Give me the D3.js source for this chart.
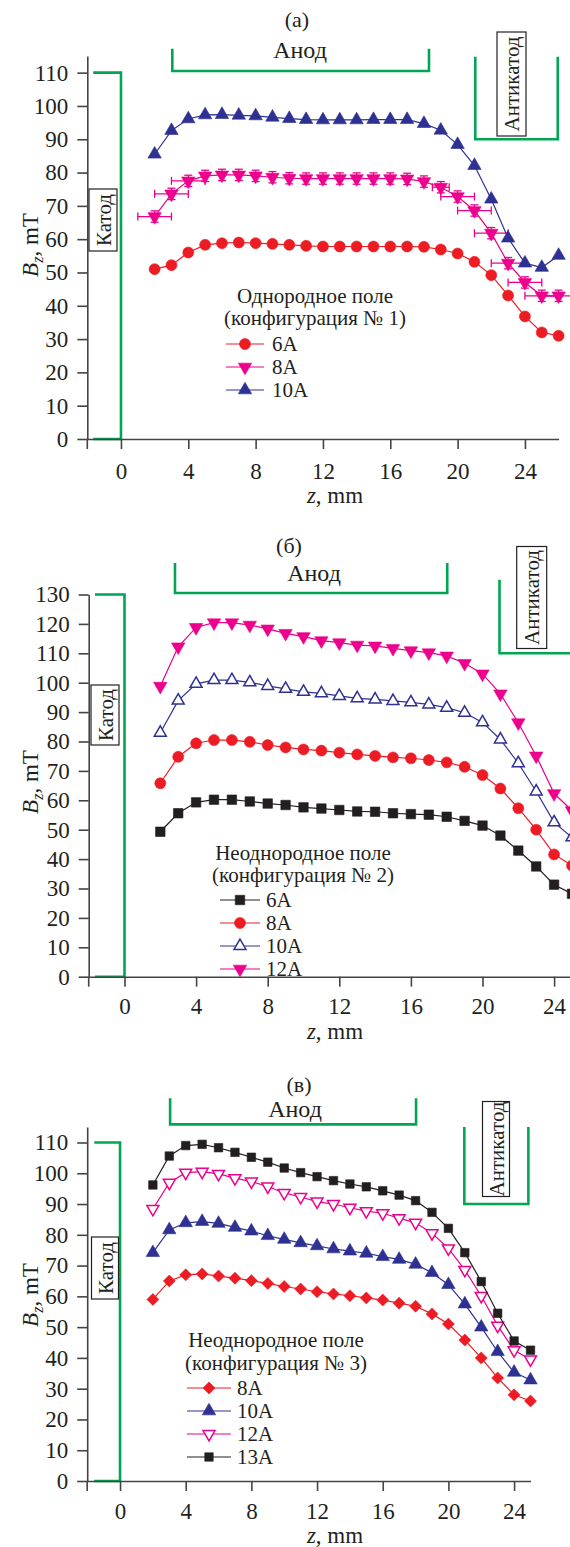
<!DOCTYPE html>
<html>
<head>
<meta charset="utf-8">
<script src="https://cdn.jsdelivr.net/npm/d3@7"></script>
<style>
  body { margin: 0; background: #fff; }
  svg { display: block; overflow: hidden; }
  text { font-family: "Liberation Serif", "Times New Roman", serif; fill: #231f20; }
</style>
</head>
<body>
<svg id="chart" width="570" height="1547"></svg>
<script>
// ---- data ----
var xTicks = [0, 4, 8, 12, 16, 20, 24];
var yTicksA = [0, 10, 20, 30, 40, 50, 60, 70, 80, 90, 100, 110];
var yTicksB = [0, 10, 20, 30, 40, 50, 60, 70, 80, 90, 100, 110, 120, 130];
var yTicksC = [0, 10, 20, 30, 40, 50, 60, 70, 80, 90, 100, 110];

// (a) uniform field, z = 2..26 mm
var zA = [2, 3, 4, 5, 6, 7, 8, 9, 10, 11, 12, 13, 14, 15, 16, 17, 18, 19, 20, 21, 22, 23, 24, 25, 26];
var a6 = [51.0, 52.2, 56.0, 58.3, 58.8, 59.0, 58.8, 58.6, 58.3, 58.0, 57.8, 57.8, 57.8, 57.8, 57.8, 57.8, 57.7, 56.9, 55.7, 53.2, 49.2, 43.1, 36.8, 32.0, 31.0];
var a8 = [66.8, 73.6, 77.5, 79.0, 79.3, 79.3, 79.0, 78.6, 78.3, 78.2, 78.2, 78.2, 78.2, 78.2, 78.2, 78.1, 77.3, 75.6, 72.8, 68.6, 61.8, 52.8, 47.0, 43.0, 43.0];
var a10 = [85.5, 92.6, 96.1, 97.3, 97.4, 97.2, 97.0, 96.6, 96.2, 95.9, 95.8, 95.8, 95.8, 95.9, 95.9, 95.9, 94.7, 92.7, 88.4, 82.1, 72.0, 60.3, 52.8, 51.5, 55.1];
var a8errY = [1.7, 1.7, 1.7, 1.7, 1.7, 1.7, 1.7, 1.7, 1.7, 1.7, 1.7, 1.7, 1.7, 1.7, 1.7, 1.7, 1.7, 1.7, 1.7, 1.7, 1.7, 1.7, 1.7, 1.7, 1.7];
var a8errX = [1, 1, 1, 0, 0, 0, 0, 0, 0, 0, 0, 0, 0, 0, 0, 0, 0, 0.5, 1, 1, 1, 1, 1, 1, 1];

// (б) non-uniform field, config 2, z = 2..25 mm
var zB = [2, 3, 4, 5, 6, 7, 8, 9, 10, 11, 12, 13, 14, 15, 16, 17, 18, 19, 20, 21, 22, 23, 24, 25];
var b6 = [49.3, 55.6, 59.3, 60.2, 60.2, 59.6, 58.9, 58.4, 57.6, 57.2, 56.7, 56.2, 56.1, 55.6, 55.3, 55.1, 54.4, 53.0, 51.4, 48.0, 42.9, 37.5, 31.3, 28.2];
var b8 = [65.8, 74.8, 79.4, 80.5, 80.5, 79.9, 78.8, 78.0, 77.3, 76.9, 76.2, 75.6, 75.1, 74.6, 74.3, 73.7, 72.9, 71.4, 68.6, 64.0, 57.3, 50.0, 41.6, 37.8];
var b10 = [83.0, 93.9, 99.6, 100.9, 100.9, 100.1, 98.9, 97.9, 96.9, 96.4, 95.5, 94.7, 94.3, 93.8, 93.3, 92.6, 91.5, 89.8, 86.5, 80.7, 72.6, 63.0, 52.5, 47.4];
var b12 = [98.8, 112.2, 118.8, 120.4, 120.4, 119.6, 118.3, 116.8, 115.7, 114.3, 113.6, 112.8, 112.5, 111.7, 110.9, 110.2, 109.1, 106.6, 103.0, 96.2, 86.4, 75.1, 62.3, 56.5];

// (в) non-uniform field, config 3, z = 2..25 mm
var zC = [2, 3, 4, 5, 6, 7, 8, 9, 10, 11, 12, 13, 14, 15, 16, 17, 18, 19, 20, 21, 22, 23, 24, 25];
var c8 = [59.0, 65.0, 67.0, 67.3, 66.6, 65.9, 65.1, 64.2, 63.2, 62.4, 61.5, 60.8, 60.2, 59.5, 58.8, 57.8, 56.8, 54.3, 51.0, 45.8, 40.0, 33.5, 28.0, 26.0];
var c10 = [74.2, 81.6, 83.9, 84.3, 83.7, 82.4, 81.2, 79.7, 78.5, 77.4, 76.4, 75.4, 74.7, 74.0, 72.9, 72.0, 70.4, 67.7, 63.8, 57.5, 50.0, 42.0, 35.3, 32.8];
var c12 = [88.4, 96.9, 100.2, 100.5, 99.8, 98.4, 97.3, 95.7, 93.6, 92.3, 90.8, 90.0, 88.8, 87.7, 87.0, 85.4, 83.9, 80.5, 75.6, 68.6, 60.1, 50.5, 42.5, 39.5];
var c13 = [96.2, 105.6, 109.0, 109.4, 108.3, 106.8, 105.2, 103.6, 101.7, 100.2, 98.9, 97.6, 96.5, 95.6, 94.3, 92.9, 91.1, 87.3, 82.1, 74.2, 64.8, 54.5, 45.5, 42.5];

var green = "#00a651", red = "#ed1c24", pink = "#ec008c", navy = "#2e3192", black = "#231f20";

var panels = [
  {
    xDomain: [-2, 26], xRange: [87.3, 558.6],
    yDomain: [0, 115], yRange: [439, 56], yTicks: yTicksA,
    xLabelY: 40, xTitleY: 503, yTitle: [38, 245],
    letter: "(а)", letterPos: [297, 27],
    anode: {z0: 3.05, z1: 18.3, v: 110.5, top: 117.2}, anodeLabel: [300, 58],
    cathode: {z0: -1.65, top: 110}, cathodeBox: [103, 220, 28, 62],
    anti: {z0: 21.05, z1: 25.95, v: 90, top: 114.8}, antiBox: [511.5, 84, 29, 104],
    series: [
      {name: "6A", z: zA, v: a6, color: red, shape: "circle"},
      {name: "8A", z: zA, v: a8, color: pink, shape: "down", errX: a8errX, errY: a8errY},
      {name: "10A", z: zA, v: a10, color: navy, shape: "up"}
    ],
    legend: {title: ["Однородное поле", "(конфигурация № 1)"], cx: 315, titleY: [303, 325],
             itemY: 344, step: 23, lx: [226, 264], tx: 272}
  },
  {
    xDomain: [-2, 26], xRange: [88.7, 589.9],
    yDomain: [0, 130], yRange: [976.7, 594.5], yTicks: yTicksB,
    xLabelY: 37, xTitleY: 1039, yTitle: [38, 782],
    letter: "(б)", letterPos: [289, 553],
    anode: {z0: 2.82, z1: 18.03, v: 130.5, top: 140.7}, anodeLabel: [314, 581],
    cathode: {z0: -1.65, top: 130}, cathodeBox: [105, 715, 28, 60],
    anti: {z0: 20.95, z1: 27, v: 110, top: 135}, antiBox: [531.7, 597.5, 30, 102],
    series: [
      {name: "6A", z: zB, v: b6, color: black, shape: "square"},
      {name: "8A", z: zB, v: b8, color: red, shape: "circle"},
      {name: "10A", z: zB, v: b10, color: navy, shape: "up", open: true},
      {name: "12A", z: zB, v: b12, color: pink, shape: "down"}
    ],
    legend: {title: ["Неоднородное поле", "(конфигурация № 2)"], cx: 303, titleY: [860, 882],
             itemY: 900, step: 23, lx: [220, 260], tx: 266}
  },
  {
    xDomain: [-2, 25], xRange: [87.2, 530.5],
    yDomain: [0, 115], yRange: [1481, 1127.1], yTicks: yTicksC,
    xLabelY: 38, xTitleY: 1543, yTitle: [38, 1295],
    letter: "(в)", letterPos: [299, 1092],
    anode: {z0: 3.05, z1: 18.03, v: 115.9, top: 124.4}, anodeLabel: [295, 1117],
    cathode: {z0: -1.57, top: 110}, cathodeBox: [105, 1268, 27, 62],
    anti: {z0: 20.97, z1: 24.87, v: 90, top: 115}, antiBox: [496, 1149, 27, 95],
    series: [
      {name: "8A", z: zC, v: c8, color: red, shape: "diamond"},
      {name: "10A", z: zC, v: c10, color: navy, shape: "up"},
      {name: "12A", z: zC, v: c12, color: pink, shape: "down", open: true},
      {name: "13A", z: zC, v: c13, color: black, shape: "square", small: true}
    ],
    legend: {title: ["Неоднородное поле", "(конфигурация № 3)"], cx: 276, titleY: [1347, 1370],
             itemY: 1388, step: 23, lx: [187, 231], tx: 237}
  }
];

var svg = d3.select("#chart");

function marker(sel, s) {
  var type, size, rot = 0;
  if (s.shape == "circle") { type = d3.symbolCircle; size = 95; }
  else if (s.shape == "square") { type = d3.symbolSquare; size = s.small ? 72 : 90; }
  else if (s.shape == "diamond") { type = d3.symbolSquare; size = 72; rot = 45; }
  else { type = d3.symbolTriangle; size = s.open ? 62 : 78; rot = s.shape == "down" ? 180 : 0; }
  sel.attr("d", d3.symbol().type(type).size(size))
    .attr("fill", s.open ? "#fff" : s.color)
    .attr("stroke", s.color)
    .attr("stroke-width", s.open ? 1.5 : 0.6)
    .attr("data-rot", rot);
}

function drawPanel(p) {
  var g = svg.append("g");
  var x = d3.scaleLinear().domain(p.xDomain).range(p.xRange);
  var y = d3.scaleLinear().domain(p.yDomain).range(p.yRange);

  // electrodes
  var el = g.append("g").attr("fill", "none").attr("stroke", green).attr("stroke-width", 2.6);
  el.append("path").attr("d", "M" + x(p.anode.z0) + "," + y(p.anode.top) + "V" + y(p.anode.v) +
    "H" + x(p.anode.z1) + "V" + y(p.anode.top));
  el.append("path").attr("d", "M" + x(p.cathode.z0) + "," + y(p.cathode.top) + "H" + x(0) +
    "V" + y(0) + "H" + x(p.cathode.z0));
  el.append("path").attr("d", "M" + x(p.anti.z0) + "," + y(p.anti.top) + "V" + y(p.anti.v) +
    "H" + x(p.anti.z1) + "V" + y(p.anti.top));

  g.append("text").attr("x", p.anodeLabel[0]).attr("y", p.anodeLabel[1])
    .attr("text-anchor", "middle").attr("font-size", "24px").text("Анод");
  g.append("text").attr("x", p.letterPos[0]).attr("y", p.letterPos[1])
    .attr("text-anchor", "middle").attr("font-size", "22px").text(p.letter);

  // labelled boxes
  [[p.cathodeBox, "Катод"], [p.antiBox, "Антикатод"]].forEach(function(b) {
    var bx = b[0];
    g.append("rect").attr("x", bx[0] - bx[2] / 2).attr("y", bx[1] - bx[3] / 2)
      .attr("width", bx[2]).attr("height", bx[3])
      .attr("fill", "#fff").attr("stroke", black).attr("stroke-width", 1.2);
    g.append("text").attr("transform", "translate(" + (bx[0] + 7.5) + "," + bx[1] + ") rotate(-90)")
      .attr("text-anchor", "middle").attr("font-size", "21px").text(b[1]);
  });

  // axes
  var yAxis = d3.axisLeft(y).tickValues(p.yTicks).tickSize(10).tickSizeOuter(0).tickPadding(9);
  var ya = g.append("g").attr("class", "y axis")
    .attr("transform", "translate(" + x(p.xDomain[0]) + ",0)")
    .call(yAxis);
  var xAxis = d3.axisBottom(x).tickValues(xTicks).tickSize(10).tickSizeOuter(0);
  var xa = g.append("g").attr("class", "x axis")
    .attr("transform", "translate(0," + y(0) + ")")
    .call(xAxis);
  xa.selectAll("text").attr("y", p.xLabelY).attr("dy", null);
  g.append("line").attr("x1", x(p.xDomain[0])).attr("x2", x(p.xDomain[0]))
    .attr("y1", y(0)).attr("y2", y(0) + 10).attr("stroke", "#444").attr("stroke-width", 1.6);
  [ya, xa].forEach(function(a) {
    a.attr("font-size", "23px").attr("font-family", "Liberation Serif, Times New Roman, serif");
    a.selectAll("path, line").attr("stroke", "#444").attr("stroke-width", 1.6);
    a.selectAll("text").attr("fill", black);
  });

  g.append("text").attr("x", 335).attr("y", p.xTitleY).attr("text-anchor", "middle")
    .attr("font-size", "23px")
    .html('<tspan font-style="italic">z</tspan>, mm');
  g.append("text")
    .attr("transform", "translate(" + p.yTitle[0] + "," + p.yTitle[1] + ") rotate(-90)")
    .attr("text-anchor", "middle").attr("font-size", "23px")
    .html('<tspan font-style="italic">B</tspan><tspan font-style="italic" font-size="16px" dy="5">z</tspan><tspan dy="-5">, mT</tspan>');

  // series
  var line = d3.line().x(function(d) { return x(d[0]); }).y(function(d) { return y(d[1]); });
  p.series.forEach(function(s) {
    var pts = s.z.map(function(z, i) { return [z, s.v[i], i]; });
    g.append("path").datum(pts).attr("d", line).attr("fill", "none")
      .attr("stroke", s.color).attr("stroke-width", 1.2);
    if (s.errY) {
      var eg = g.append("g").attr("stroke", s.color).attr("stroke-width", 1.3);
      pts.forEach(function(d) {
        var ey = s.errY[d[2]], ex = s.errX[d[2]];
        var cx = x(d[0]), cy = y(d[1]);
        eg.append("line").attr("x1", cx).attr("x2", cx).attr("y1", y(d[1] - ey)).attr("y2", y(d[1] + ey));
        eg.append("line").attr("x1", cx - 4).attr("x2", cx + 4).attr("y1", y(d[1] - ey)).attr("y2", y(d[1] - ey));
        eg.append("line").attr("x1", cx - 4).attr("x2", cx + 4).attr("y1", y(d[1] + ey)).attr("y2", y(d[1] + ey));
        if (ex > 0) {
          eg.append("line").attr("x1", x(d[0] - ex)).attr("x2", x(d[0] + ex)).attr("y1", cy).attr("y2", cy);
          eg.append("line").attr("x1", x(d[0] - ex)).attr("x2", x(d[0] - ex)).attr("y1", cy - 4).attr("y2", cy + 4);
          eg.append("line").attr("x1", x(d[0] + ex)).attr("x2", x(d[0] + ex)).attr("y1", cy - 4).attr("y2", cy + 4);
        }
      });
    }
    g.selectAll(null).data(pts).enter().append("path")
      .call(marker, s)
      .attr("transform", function(d) {
        return "translate(" + x(d[0]) + "," + y(d[1]) + ") rotate(" + this.getAttribute("data-rot") + ")";
      });
  });

  // legend
  var L = p.legend;
  L.title.forEach(function(t, i) {
    g.append("text").attr("x", L.cx).attr("y", L.titleY[i]).attr("text-anchor", "middle")
      .attr("font-size", "21px").text(t);
  });
  p.series.forEach(function(s, i) {
    var ly = L.itemY + i * L.step;
    g.append("line").attr("x1", L.lx[0]).attr("x2", L.lx[1]).attr("y1", ly).attr("y2", ly)
      .attr("stroke", s.color).attr("stroke-width", 1.2);
    g.append("path").call(marker, s)
      .attr("transform", function() {
        return "translate(" + ((L.lx[0] + L.lx[1]) / 2) + "," + ly + ") rotate(" + this.getAttribute("data-rot") + ")";
      });
    g.append("text").attr("x", L.tx).attr("y", ly + 7).attr("font-size", "21px").text(s.name);
  });
}

panels.forEach(drawPanel);
</script>
</body>
</html>
